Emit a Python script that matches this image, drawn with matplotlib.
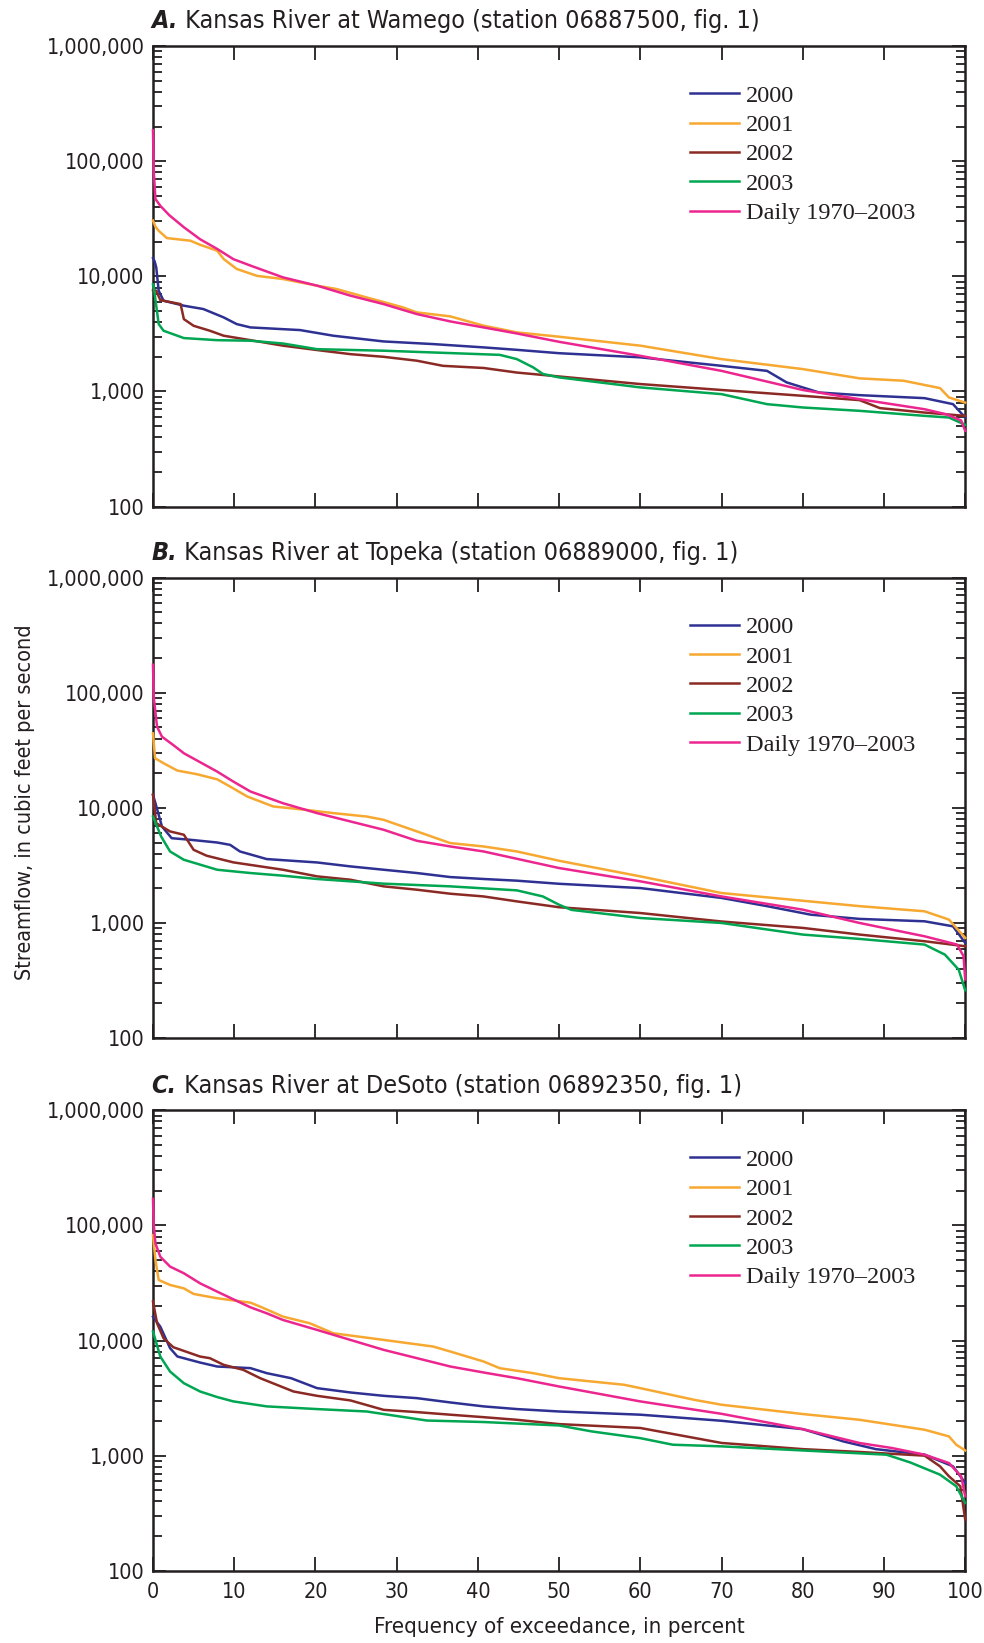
import matplotlib
matplotlib.use("Agg")
import matplotlib.pyplot as plt
from matplotlib import font_manager
from matplotlib.font_manager import FontProperties
from matplotlib.ticker import FixedLocator, FixedFormatter, LogLocator, NullFormatter
import os

def find_font(cands):
    for f in font_manager.fontManager.ttflist:
        base = os.path.basename(f.fname)
        for c in cands:
            if base.lower() == c.lower():
                return f.fname
    return None

reg_path = find_font(['LiberationSansNarrow-Regular.ttf', 'DejaVuSansCondensed.ttf'])
bi_path = find_font(['LiberationSansNarrow-BoldItalic.ttf', 'DejaVuSansCondensed-BoldOblique.ttf'])

def sans(size, bold_italic=False):
    p = bi_path if bold_italic else reg_path
    if p:
        return FontProperties(fname=p, size=size)
    return FontProperties(family='DejaVu Sans', size=size, stretch='condensed',
                          weight='bold' if bold_italic else 'normal',
                          style='italic' if bold_italic else 'normal')

names = {f.name for f in font_manager.fontManager.ttflist}
SERIF = 'Liberation Serif' if 'Liberation Serif' in names else 'DejaVu Serif'

# ---------------- data (percent exceedance, streamflow cfs) ----------------
titles_letter = ["A.", "B.", "C."]
titles_text = [
    " Kansas River at Wamego (station 06887500, fig. 1)",
    " Kansas River at Topeka (station 06889000, fig. 1)",
    " Kansas River at DeSoto (station 06892350, fig. 1)",
]
series_names = ["2000", "2001", "2002", "2003", "Daily 1970\u20132003"]
series_colors = ["#2e3192", "#f7a830", "#8b2a24", "#00a651", "#ec268f"]

# Panel A - Wamego
a2000_x = [0, 0.2, 0.4, 0.7, 1.3, 3.8, 6.2, 8.7, 10.3, 12, 18.1, 22.2, 28.4, 34.5, 40.7, 44.8, 50, 60, 70, 75.6, 78, 82, 87, 95, 98.5, 100]
a2000_y = [14400, 13500, 11960, 7500, 6140, 5560, 5200, 4400, 3850, 3600, 3415, 3050, 2720, 2580, 2415, 2300, 2150, 1980, 1670, 1510, 1200, 980, 929, 875, 776, 594]
a2001_x = [0, 0.3, 0.7, 1.7, 4.6, 5.8, 7.9, 8.7, 10.3, 12.8, 16, 20.2, 22.6, 26.3, 30.8, 32.5, 36.6, 40.7, 44.8, 50, 60, 70, 80, 87, 92.4, 96.9, 98, 100]
a2001_y = [30500, 27000, 24900, 21500, 20400, 18800, 16700, 14150, 11600, 10100, 9480, 8300, 7760, 6560, 5370, 4860, 4490, 3730, 3260, 2990, 2500, 1910, 1565, 1300, 1240, 1070, 887, 800]
a2002_x = [0, 0.4, 0.9, 3.4, 3.8, 5.0, 7.0, 8.7, 12, 16, 20.2, 24.3, 28.4, 32.5, 35.7, 40.7, 44.8, 50, 60, 70, 80, 87, 89.5, 95, 100]
a2002_y = [7600, 7500, 6220, 5740, 4250, 3720, 3370, 3050, 2790, 2500, 2290, 2110, 2000, 1850, 1670, 1600, 1460, 1350, 1160, 1030, 917, 841, 717, 656, 614]
a2003_x = [0, 0.1, 0.7, 1.3, 3.8, 7.9, 12, 16, 20.2, 28.4, 36.6, 42.7, 44.8, 46.8, 48, 50, 60, 70, 75.6, 80, 87, 95, 98, 100]
a2003_y = [8500, 8020, 3850, 3370, 2910, 2790, 2760, 2610, 2330, 2260, 2155, 2080, 1910, 1620, 1420, 1325, 1085, 948, 776, 726, 679, 614, 594, 513]
adaily_x = [0, 0.1, 0.3, 0.9, 2, 3.8, 5.8, 7.9, 9.9, 12, 16, 20.2, 24.3, 28.4, 32.5, 36.6, 40.7, 44.8, 50, 60, 70, 80, 87, 95, 97.7, 99.5, 100]
adaily_y = [186000, 80000, 47000, 41000, 34000, 26700, 21000, 17300, 14100, 12400, 9800, 8300, 6800, 5740, 4700, 4060, 3600, 3190, 2700, 2040, 1510, 1030, 857, 701, 633, 560, 455]

# Panel B - Topeka
b2000_x = [0, 0.3, 1.1, 2.3, 4.6, 7.9, 9.5, 10.7, 14, 20.2, 24.3, 28.4, 32.5, 36.6, 40.7, 44.8, 50, 60, 70, 75.6, 81, 87, 95, 98.5, 100]
b2000_y = [12970, 10970, 6890, 5450, 5280, 5000, 4770, 4180, 3590, 3355, 3100, 2900, 2715, 2505, 2410, 2330, 2190, 2010, 1650, 1400, 1180, 1085, 1034, 935, 671]
b2001_x = [0, 0.25, 1.3, 3.0, 5.4, 7.9, 9.5, 11.6, 14.8, 18.1, 22.2, 26.3, 28.4, 32.5, 36.6, 40.7, 44.8, 50, 60, 70, 80, 87, 95, 98, 100]
b2001_y = [44400, 27000, 24400, 21080, 19600, 17700, 15300, 12550, 10280, 9730, 9000, 8410, 7870, 6240, 4940, 4620, 4180, 3470, 2540, 1820, 1560, 1400, 1263, 1070, 742]
b2002_x = [0, 0.4, 2.1, 3.8, 5.0, 6.6, 9.9, 16, 20.2, 24.3, 28.4, 32.5, 36.6, 40.7, 44.8, 50, 60, 70, 80, 87, 95, 100]
b2002_y = [12970, 7360, 6240, 5840, 4320, 3840, 3360, 2900, 2540, 2375, 2080, 1945, 1795, 1700, 1540, 1370, 1220, 1030, 906, 793, 694, 628]
b2003_x = [0, 1.0, 2.1, 3.8, 7.9, 12, 16, 20.2, 28.4, 36.6, 44.8, 48, 50, 51.5, 60, 70, 80, 87, 95, 97.5, 99.2, 100]
b2003_y = [8410, 5640, 4180, 3540, 2900, 2715, 2575, 2410, 2195, 2080, 1920, 1700, 1440, 1300, 1105, 1000, 793, 727, 649, 531, 393, 260]
bdaily_x = [0, 0.1, 0.5, 1.1, 2.5, 3.8, 7.9, 9.9, 12, 16, 20.2, 24.3, 28.4, 32.5, 36.6, 40.7, 44.8, 50, 60, 70, 80, 87, 95, 99, 99.8, 100]
bdaily_y = [175000, 90000, 50700, 41500, 35100, 29800, 20650, 16900, 13860, 10970, 9000, 7620, 6450, 5170, 4620, 4180, 3610, 3000, 2300, 1700, 1305, 1000, 766, 649, 514, 324]

# Panel C - DeSoto
c2000_x = [0, 0.9, 2.1, 3.0, 5.8, 7.9, 12, 14, 17, 20.2, 24.3, 28.4, 32.5, 36.6, 40.7, 44.8, 50, 60, 70, 80, 85, 89, 95, 98.5, 100]
c2000_y = [16100, 13200, 8590, 7270, 6440, 5950, 5760, 5210, 4710, 3860, 3540, 3310, 3160, 2900, 2680, 2540, 2420, 2270, 2010, 1700, 1330, 1140, 1020, 808, 580]
c2001_x = [0, 0.3, 0.7, 2.1, 3.8, 5.0, 7.9, 12, 13.2, 16, 19.3, 22.2, 28.4, 34.5, 36.6, 40.7, 42.7, 46.8, 50, 58, 60, 66.6, 70, 80, 87, 95, 98, 98.9, 100]
c2001_y = [82500, 50100, 33600, 30400, 28400, 25400, 23300, 21340, 19700, 16150, 14130, 11570, 10130, 8870, 8030, 6580, 5750, 5210, 4710, 4130, 3860, 3060, 2770, 2300, 2050, 1680, 1470, 1245, 1110]
c2002_x = [0, 0.5, 1.3, 2.5, 5.8, 7.0, 8.7, 11.1, 13.2, 17.3, 20.2, 24.3, 28.4, 32.5, 36.6, 40.7, 44.8, 50, 60, 70, 80, 87, 95, 96.9, 98, 99.4, 100]
c2002_y = [21800, 14130, 10470, 8750, 7260, 7030, 6150, 5570, 4710, 3610, 3310, 3020, 2500, 2390, 2270, 2160, 2050, 1880, 1740, 1290, 1140, 1077, 1000, 808, 662, 542, 279]
c2003_x = [0, 0.9, 2.1, 3.8, 5.8, 7.9, 9.9, 14, 20.2, 26.3, 30.4, 33.7, 40.7, 50, 54, 60, 64, 70, 80, 90.3, 93.2, 96.9, 98.9, 100]
c2003_y = [11960, 7260, 5380, 4260, 3610, 3230, 2960, 2680, 2540, 2420, 2190, 2020, 1960, 1830, 1625, 1420, 1245, 1205, 1110, 1020, 875, 684, 542, 389]
cdaily_x = [0, 0.1, 0.3, 0.9, 2.1, 3.8, 5.8, 7.9, 9.9, 12, 14, 16, 20.2, 24.3, 28.4, 32.5, 36.6, 40.7, 44.8, 50, 60, 70, 80, 87, 91, 95, 98, 99.5, 100]
cdaily_y = [170000, 100000, 69800, 53500, 43900, 38400, 31400, 26600, 22800, 19440, 17250, 15100, 12370, 10130, 8300, 7030, 5950, 5280, 4710, 3990, 2960, 2310, 1700, 1288, 1165, 1020, 863, 662, 444]

y_ticks = [100, 1000, 10000, 100000, 1000000]
y_ticklabels = ["100", "1,000", "10,000", "100,000", "1,000,000"]
x_ticks = [0, 10, 20, 30, 40, 50, 60, 70, 80, 90, 100]
x_ticklabels = [str(v) for v in x_ticks]

panels = [
    [(a2000_x, a2000_y), (a2001_x, a2001_y), (a2002_x, a2002_y), (a2003_x, a2003_y), (adaily_x, adaily_y)],
    [(b2000_x, b2000_y), (b2001_x, b2001_y), (b2002_x, b2002_y), (b2003_x, b2003_y), (bdaily_x, bdaily_y)],
    [(c2000_x, c2000_y), (c2001_x, c2001_y), (c2002_x, c2002_y), (c2003_x, c2003_y), (cdaily_x, cdaily_y)],
]

# ---------------- figure ----------------
W, H = 984, 1643
INK = '#231f20'
fig = plt.figure(figsize=(W / 100, H / 100), dpi=100)
ax_left = 153 / W
ax_w = 812.2 / W
tops = [46.1, 577.6, 1110.3]
ax_h_px = 460.5

for i, series in enumerate(panels):
    bottom = 1 - (tops[i] + ax_h_px) / H
    ax = fig.add_axes([ax_left, bottom, ax_w, ax_h_px / H])
    ax.set_yscale('log')
    for (xs, ys), name, col in zip(series, series_names, series_colors):
        ax.plot(xs, ys, color=col, lw=1.8, label=name, solid_joinstyle='round',
                clip_on=False, zorder=3)
    ax.set_xlim(0, 100)
    ax.set_ylim(100, 1000000)
    ax.yaxis.set_major_locator(FixedLocator(y_ticks))
    ax.yaxis.set_major_formatter(FixedFormatter(y_ticklabels))
    ax.yaxis.set_minor_locator(LogLocator(base=10, subs=range(2, 10)))
    ax.yaxis.set_minor_formatter(NullFormatter())
    ax.xaxis.set_major_locator(FixedLocator(x_ticks))
    ax.xaxis.set_major_formatter(FixedFormatter(x_ticklabels))
    ax.tick_params(axis='both', which='major', direction='in', top=True, right=True,
                   width=1.3, color=INK)
    ax.tick_params(axis='y', which='major', length=9.5, pad=6)
    ax.tick_params(axis='y', which='minor', direction='in', right=True, left=True,
                   length=6.5, width=1.3, color=INK)
    ax.tick_params(axis='x', which='major', length=10, pad=8)
    for lab in ax.get_yticklabels() + ax.get_xticklabels():
        lab.set_fontproperties(sans(15.5))
        lab.set_color(INK)
    if i < 2:
        ax.tick_params(axis='x', labelbottom=False)
    for sp in ax.spines.values():
        sp.set_linewidth(1.8)
        sp.set_color(INK)
    # title
    t1 = ax.annotate(titles_letter[i], xy=(0, 1), xycoords='axes fraction',
                     xytext=(-1.0, 12.8), textcoords='offset points',
                     ha='left', va='baseline', fontproperties=sans(18, True), color=INK)
    ax.annotate(titles_text[i], xy=(1, 0), xycoords=t1, ha='left', va='bottom',
                fontproperties=sans(18), color=INK)
    leg = ax.legend(loc='upper left', bbox_to_anchor=(0.6615, 0.916), frameon=False,
                    prop={'family': SERIF, 'size': 17.5}, handlelength=2.0,
                    handletextpad=0.3, labelspacing=0.3, borderpad=0, borderaxespad=0)
    for t in leg.get_texts():
        t.set_color(INK)
    if i == 2:
        ax.set_xlabel("Frequency of exceedance, in percent", fontproperties=sans(16),
                      color=INK, labelpad=11)

fig.text(25 / W, 1 - 802 / H, "Streamflow, in cubic feet per second", rotation=90,
         ha='center', va='center', fontproperties=sans(15.5), color=INK)

fig.savefig("out.png", dpi=100)
